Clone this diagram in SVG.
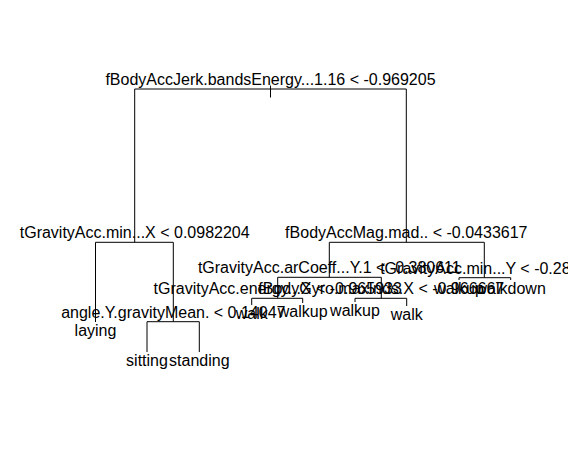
<svg xmlns="http://www.w3.org/2000/svg" width="568" height="461" viewBox="0 0 568 461">
<style>
.t{font-family:"Liberation Sans",Arial,Helvetica,sans-serif;font-size:16px;fill:#000;text-anchor:middle}
.c path{fill:none;stroke:#000;stroke-width:1}
</style>
<rect width="568" height="461" fill="#fff"/>
<g class="c" id="connectors">
<path d="M270.5 85.5V97.5"/>
<path d="M134.7 242.3V89H406.3V242.3"/>
<path d="M95.5 322V242.3H173.3V321.7"/>
<path d="M147 352V321.7H199.3V352"/>
<path d="M329.3 277.3V242.3H484.3V277.7"/>
<path d="M277.7 298.3V277.3H381.3V298.3"/>
<path d="M251.7 305V298.3H302.7V303"/>
<path d="M355 302V298.3H406.7V306"/>
<path d="M459 280V277.7H510.7V280"/>
</g>
<g id="n1"><text class="t" x="270.5" y="85">fBodyAccJerk.bandsEnergy...1.16 &lt; -0.969205</text></g>
<g id="n2"><text class="t" x="134.7" y="238">tGravityAcc.min...X &lt; 0.0982204</text></g>
<g id="n3"><text class="t" x="406.3" y="238">fBodyAccMag.mad.. &lt; -0.0433617</text></g>
<g id="n4"><text class="t" x="95.5" y="336">laying</text></g>
<g id="n5"><text class="t" x="173.3" y="317.5">angle.Y.gravityMean. &lt; 0.14047</text></g>
<g id="n10"><text class="t" x="147" y="366">sitting</text></g>
<g id="n11"><text class="t" x="199.3" y="366">standing</text></g>
<g id="n6"><text class="t" x="329.3" y="273.3">tGravityAcc.arCoeff...Y.1 &lt; -0.380611</text></g>
<g id="n7"><text class="t" x="484.3" y="273.5">tGravityAcc.min...Y &lt; -0.2836</text></g>
<g id="n12"><text class="t" x="277.7" y="294.3">tGravityAcc.energy...X &lt; -0.965933</text></g>
<g id="n13"><text class="t" x="381.3" y="294.3">fBodyGyro.maxInds.X &lt; -0.966667</text></g>
<g id="n24"><text class="t" x="251.7" y="319">walk</text></g>
<g id="n25"><text class="t" x="302.7" y="317">walkup</text></g>
<g id="n26"><text class="t" x="355" y="316">walkup</text></g>
<g id="n27"><text class="t" x="406.7" y="320">walk</text></g>
<g id="n14"><text class="t" x="459" y="294">walkup</text></g>
<g id="n15"><text class="t" x="510.7" y="294">walkdown</text></g>
</svg>
